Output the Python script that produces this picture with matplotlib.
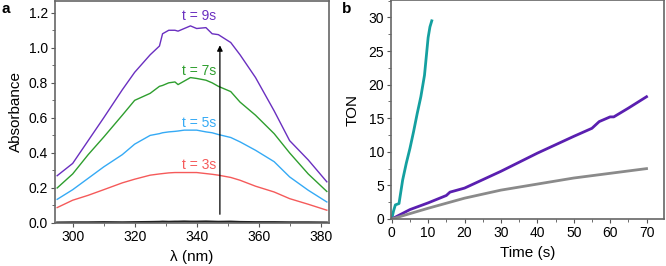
import numpy as np
import matplotlib
matplotlib.use('Agg')
import matplotlib.pyplot as plt
from matplotlib.ticker import MultipleLocator

plt.rcParams['font.family'] = ['Liberation Sans', 'DejaVu Sans']
plt.rcParams['font.size'] = 10

# panel a: absorbance spectra
wl = [295, 300, 305, 310, 316, 320, 325, 328, 329, 331, 333, 334, 336, 338, 340,
      343, 345, 347, 351, 354, 359, 365, 370, 376, 382]
abs_9s = [0.27, 0.34, 0.47, 0.60, 0.76, 0.86, 0.96, 1.01, 1.08, 1.10, 1.10, 1.095, 1.11, 1.125, 1.11,
          1.115, 1.08, 1.075, 1.03, 0.96, 0.83, 0.64, 0.47, 0.36, 0.235]
abs_7s = [0.20, 0.28, 0.39, 0.49, 0.615, 0.70, 0.74, 0.78, 0.785, 0.80, 0.805, 0.79, 0.81, 0.83, 0.825,
          0.815, 0.80, 0.78, 0.75, 0.69, 0.615, 0.51, 0.40, 0.28, 0.18]
abs_5s = [0.135, 0.19, 0.255, 0.32, 0.39, 0.45, 0.50, 0.51, 0.515, 0.52, 0.523, 0.525, 0.53, 0.53, 0.53,
          0.52, 0.515, 0.505, 0.488, 0.463, 0.415, 0.35, 0.263, 0.187, 0.12]
abs_3s = [0.088, 0.13, 0.158, 0.19, 0.229, 0.25, 0.273, 0.28, 0.282, 0.286, 0.288, 0.288, 0.288, 0.288, 0.288,
          0.282, 0.278, 0.273, 0.26, 0.244, 0.21, 0.177, 0.139, 0.107, 0.073]
abs_0s = [0.003, 0.004, 0.004, 0.005, 0.004, 0.005, 0.006, 0.007, 0.008, 0.007, 0.008, 0.008, 0.009, 0.008, 0.008,
          0.009, 0.008, 0.007, 0.008, 0.006, 0.005, 0.005, 0.004, 0.004, 0.003]
spec_labels = ['t = 9s', 't = 7s', 't = 5s', 't = 3s']
label_y = [1.18, 0.867, 0.57, 0.333]
spec_colors = ['#6a2fc0', '#2e9e2e', '#35aaf5', '#f55a5a']

# panel b: TON vs time
t_teal = [0, 0.5, 1, 1.5, 2, 3, 4, 5, 6, 7, 8, 9, 10, 10.5, 11]
ton_teal = [0, 1.2, 2.1, 2.2, 2.3, 5.8, 8.3, 10.5, 13.0, 15.7, 18.2, 21.4, 27.0, 28.6, 29.5]
t_purple = [0, 5, 10, 15, 16, 20, 30, 40, 50, 55, 57, 60, 61, 65, 70]
ton_purple = [0, 1.4, 2.4, 3.5, 4.0, 4.6, 7.1, 9.8, 12.3, 13.5, 14.5, 15.2, 15.2, 16.5, 18.2]
t_gray = [0, 10, 20, 30, 40, 50, 60, 70]
ton_gray = [0, 1.6, 3.1, 4.3, 5.2, 6.1, 6.8, 7.5]

fig = plt.figure(figsize=(6.66, 2.66), dpi=100)
ax1 = fig.add_axes([55 / 666, 1 - 223 / 266, 274 / 666, 222 / 266])
ax2 = fig.add_axes([391 / 666, 1 - 219 / 266, 273 / 666, 219 / 266])

for y, c in zip([abs_9s, abs_7s, abs_5s, abs_3s], spec_colors):
    ax1.plot(wl, y, color=c, lw=1.0)
ax1.plot(wl, abs_0s, color='#222222', lw=1.5)
for lab, ly, c in zip(spec_labels, label_y, spec_colors):
    ax1.text(340.8, ly, lab, color=c, ha='center', va='center', fontsize=10)
ax1.annotate('', xy=(347.5, 1.03), xytext=(347.5, 0.034),
             arrowprops=dict(arrowstyle='-|>', color='black', lw=0.9, mutation_scale=8))
ax1.set_xlim(294.3, 382.7)
ax1.set_ylim(0, 1.267)
ax1.xaxis.set_major_locator(MultipleLocator(20))
ax1.xaxis.set_minor_locator(MultipleLocator(10))
ax1.yaxis.set_major_locator(MultipleLocator(0.2))
ax1.yaxis.set_minor_locator(MultipleLocator(0.1))
ax1.yaxis.set_major_formatter(matplotlib.ticker.FormatStrFormatter('%.1f'))
ax1.set_xlabel('λ (nm)', fontsize=11, labelpad=4)
ax1.set_ylabel('Absorbance', fontsize=11, labelpad=4)

ax2.plot(t_teal, ton_teal, color='#14a0a0', lw=2)
ax2.plot(t_purple, ton_purple, color='#5a1fb0', lw=2)
ax2.plot(t_gray, ton_gray, color='#8a8a8a', lw=2)
ax2.set_xlim(-0.2, 74.8)
ax2.set_ylim(0, 32.6)
ax2.xaxis.set_major_locator(MultipleLocator(10))
ax2.xaxis.set_minor_locator(MultipleLocator(5))
ax2.yaxis.set_major_locator(MultipleLocator(5))
ax2.yaxis.set_minor_locator(MultipleLocator(2.5))
ax2.set_xlabel('Time (s)', fontsize=11, labelpad=4)
ax2.set_ylabel('TON', fontsize=11, labelpad=6)

for ax in (ax1, ax2):
    for s in ax.spines.values():
        s.set_color('#666666')
        s.set_linewidth(1.2)
    ax.tick_params(which='major', length=3, width=0.8, color='#555555', labelsize=10, pad=2)
    ax.tick_params(which='minor', length=2, width=0.6, color='#555555')

fig.text(1 / 666, 1 - 9 / 266, 'a', fontsize=11, fontweight='bold', va='center')
fig.text(342 / 666, 1 - 9 / 266, 'b', fontsize=11, fontweight='bold', va='center')

fig.savefig('out.png', dpi=100)
